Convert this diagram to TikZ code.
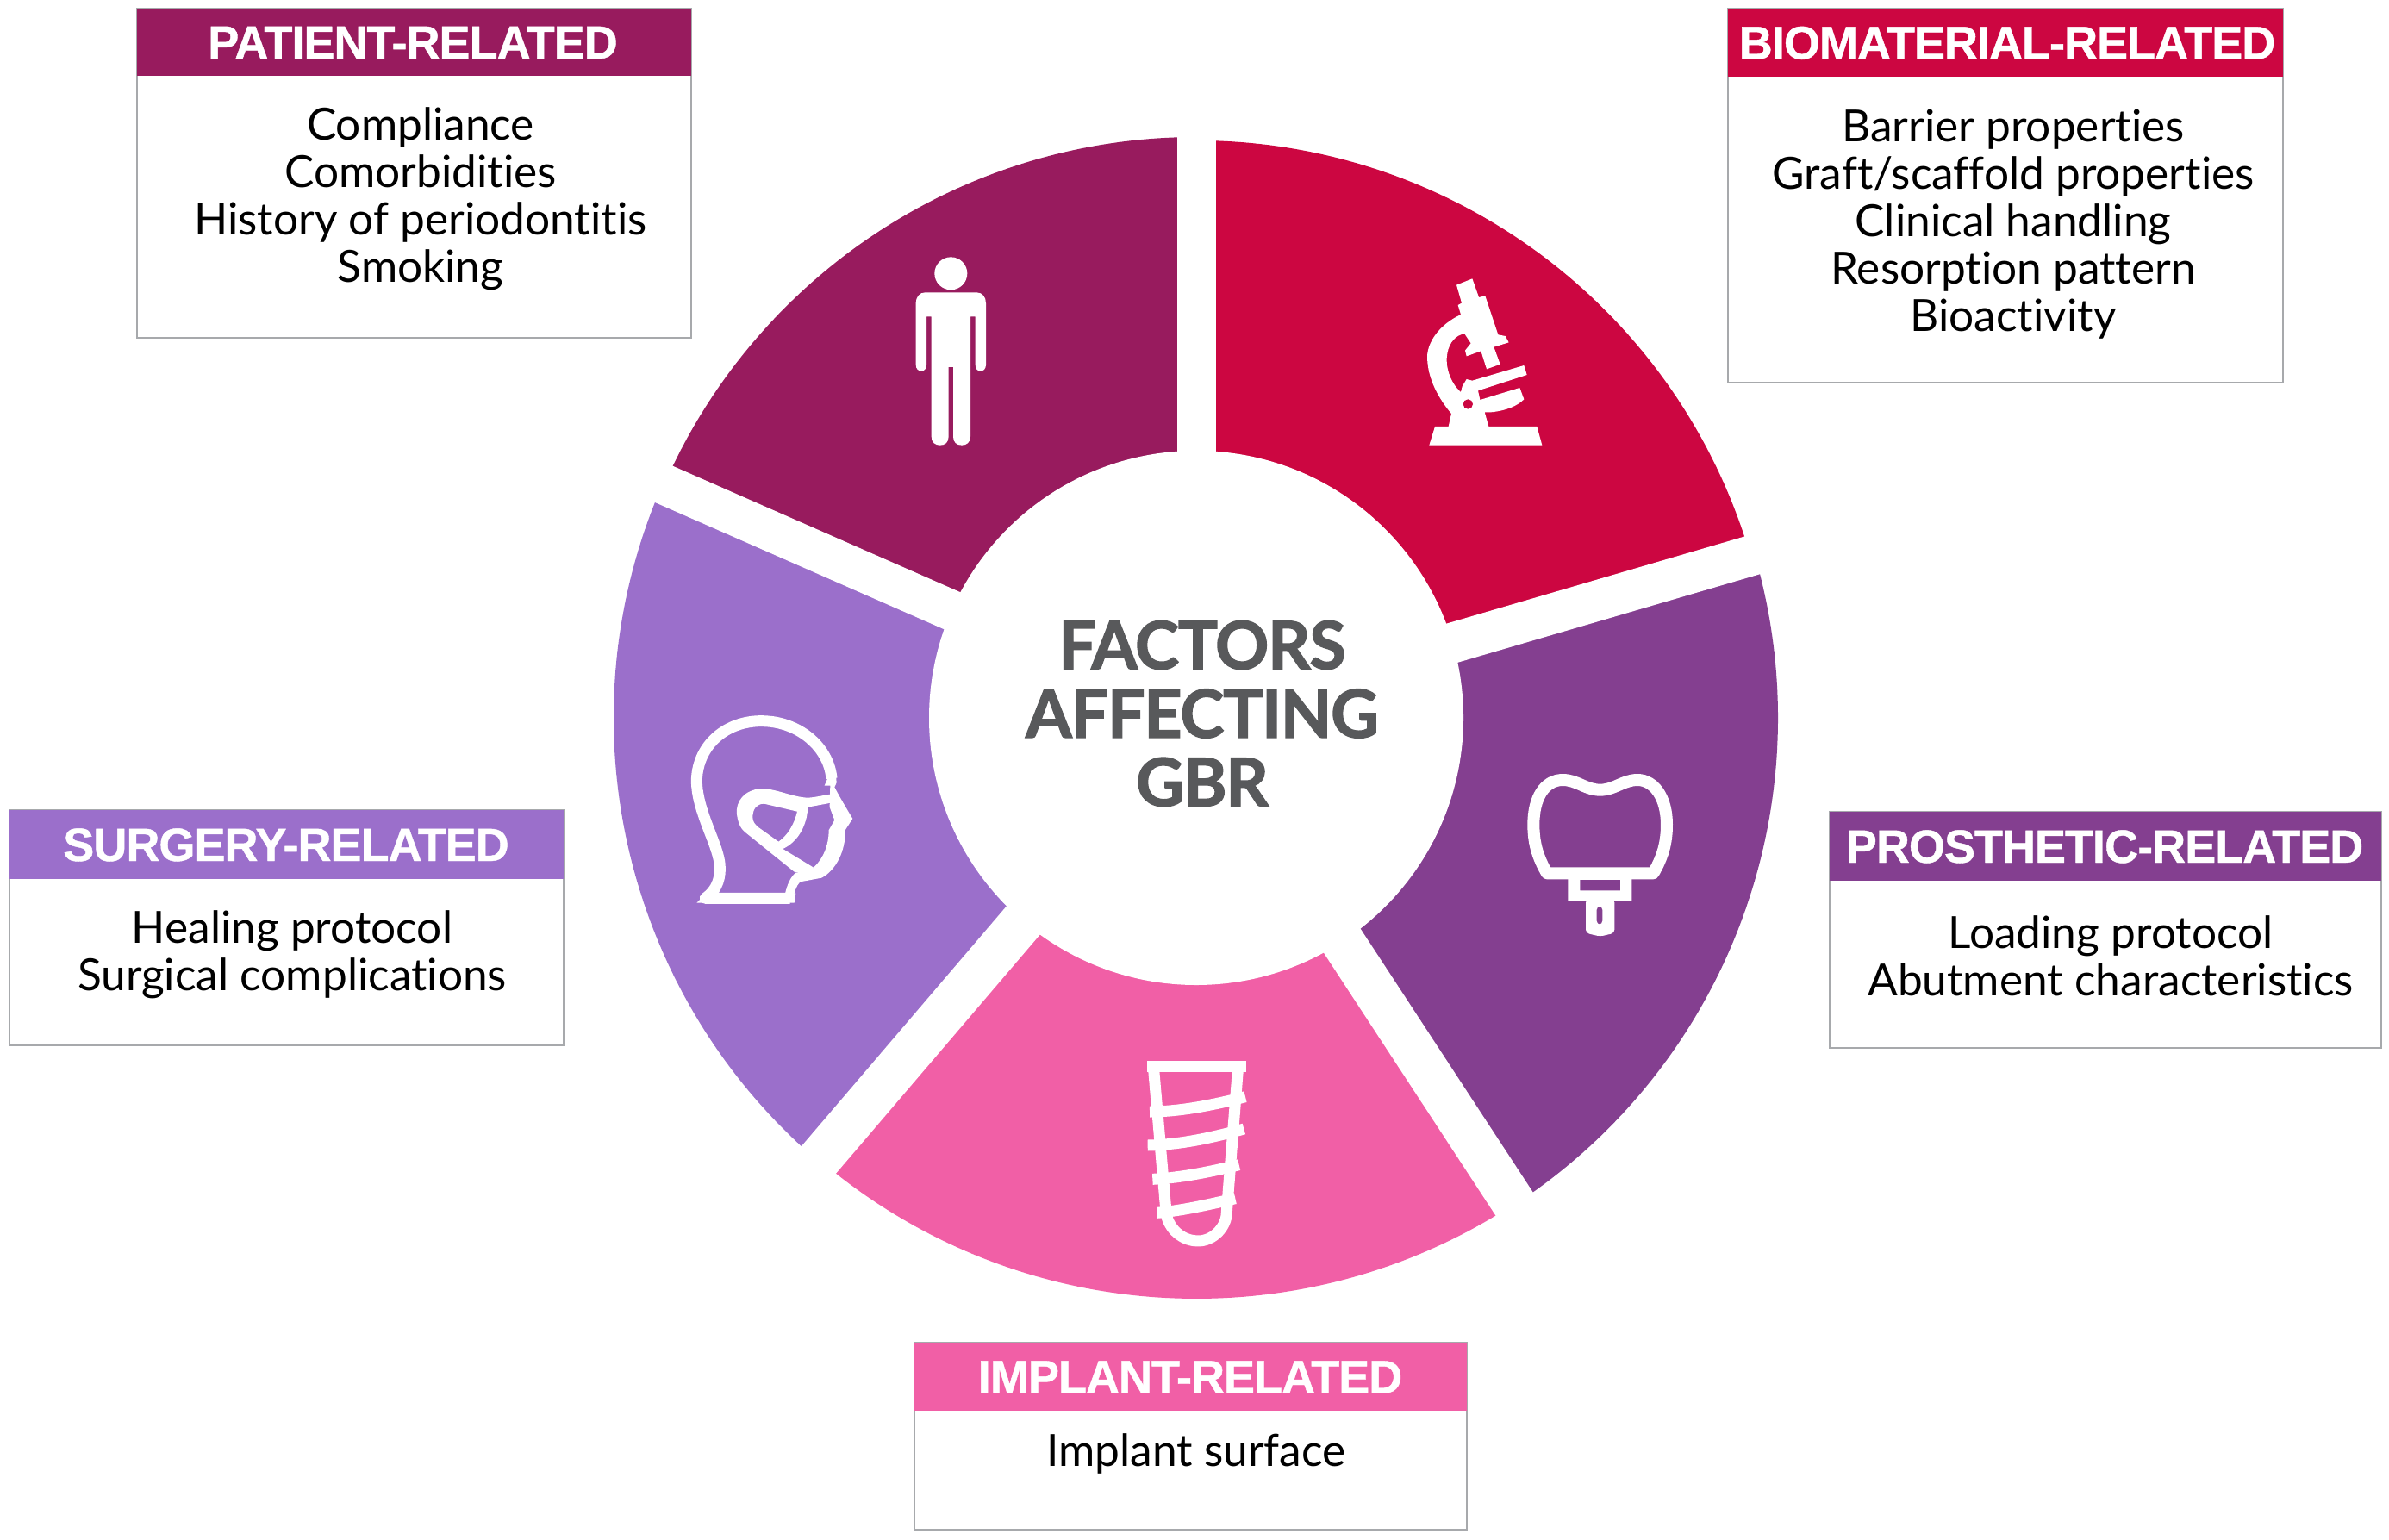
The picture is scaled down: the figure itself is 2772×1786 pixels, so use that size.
\documentclass[tikz,border=0pt]{standalone}
\usepackage{fontspec}
\setmainfont[Ligatures=NoCommon,BoldFeatures={FakeBold=1.8,LetterSpace=-1.5}]{Lato}
\newfontfamily\titlefont[LetterSpace=-1.8,BoldFeatures={FakeBold=0.8,LetterSpace=-1.8}]{Liberation Sans}
\definecolor{patcol}{HTML}{981B5E}
\definecolor{biocol}{HTML}{CC0641}
\definecolor{procol}{HTML}{843F90}
\definecolor{impcol}{HTML}{F15FA6}
\definecolor{surcol}{HTML}{9B6FCB}
\definecolor{centcol}{HTML}{58595B}
\definecolor{framecol}{HTML}{A7A9AC}
\tikzset{
  boxframe/.style={draw=framecol,line width=2pt,fill=white,inner sep=0pt,outer sep=0pt},
  headband/.style={inner sep=0pt,outer sep=0pt},
  headtext/.style={text=white,font=\titlefont\bfseries\fontsize{54}{56}\selectfont,inner sep=0pt,anchor=base},
  bodytext/.style={text=black,font=\fontsize{51.4}{55}\selectfont,inner sep=0pt,anchor=base},
  centretext/.style={text=centcol,font=\bfseries\fontsize{77}{79.5}\selectfont,align=center,inner sep=0pt},
  icline/.style={draw=white,fill=none,line join=round},
}
\newcommand{\catbox}[9]{%
  \pgfmathsetmacro\cxa{(#2+#4)/2}\pgfmathsetmacro\cya{(#3+#6)/2}%
  \pgfmathsetmacro\wa{#4-#2}\pgfmathsetmacro\ha{#6-#3}%
  \pgfmathsetmacro\cyb{(#3+#5)/2}\pgfmathsetmacro\hb{#5-#3}%
  \node[boxframe,minimum width=\wa pt,minimum height=\ha pt] (#1box) at (\cxa,\cya) {};
  \node[headband,fill=#7,minimum width=\wa pt,minimum height=\hb pt] (#1band) at (\cxa,\cyb) {};
  \pgfmathsetmacro\cyc{\cyb+19}%
  \node[headtext] (#1title) at (#8,\cyc) {#9};
}
\begin{document}
\begin{tikzpicture}[x=1pt,y=-1pt]
\useasboundingbox (0,0) rectangle (2772,1786);
\fill[white] (0,0) rectangle (2772,1786);
% ring
\begin{scope}[shift={(1388,833)},y=1pt]
  \fill[biocol] (0,0) -- (90:670) arc[start angle=90,end angle=16.3,radius=670] -- cycle;
  \fill[procol] (0,0) -- (16.3:675) arc[start angle=16.3,end angle=-56.8,radius=675] -- cycle;
  \fill[impcol] (0,0) -- (-56.8:674) arc[start angle=-56.8,end angle=-130.5,radius=674] -- cycle;
  \fill[surcol] (0,0) -- (-130.5:676) arc[start angle=-130.5,end angle=-203.7,radius=676] -- cycle;
  \fill[patcol] (0,0) -- (156.3:674) arc[start angle=156.3,end angle=90,radius=674] -- cycle;
  \draw[white,line width=45pt] (0,0) -- (90:700);
  \draw[white,line width=47pt] (0,0) -- (16.3:700);
  \draw[white,line width=51pt] (0,0) -- (-56.8:700);
  \draw[white,line width=51pt] (0,0) -- (-130.5:700);
  \draw[white,line width=47pt] (0,0) -- (156.3:700);
  \fill[white] (0,0) circle[radius=310];
\end{scope}
\node[centretext] (centre) at (1395,828) {FACTORS\\AFFECTING\\GBR};
% person
\begin{scope}[shift={(1040,280)},scale=0.3333]
  \fill[white] (190,112) circle[radius=57];
  \fill[white] (100,178) -- (280,178) .. controls (300,178) and (312,195) .. (312,215) -- (312,430)
    .. controls (312,445) and (302,452) .. (293,452) .. controls (284,452) and (275,445) .. (275,430)
    -- (275,262) -- (258,262) -- (258,680) .. controls (258,700) and (245,710) .. (228,710)
    .. controls (210,710) and (198,700) .. (198,680) -- (198,438) -- (182,438) -- (182,680)
    .. controls (182,700) and (170,710) .. (152,710) .. controls (135,710) and (122,700) .. (122,680)
    -- (122,262) -- (105,262) -- (105,430) .. controls (105,445) and (96,452) .. (87,452)
    .. controls (78,452) and (68,445) .. (68,430) -- (68,215) .. controls (68,195) and (80,178) .. (100,178) -- cycle;
\end{scope}
% microscope
\begin{scope}[shift={(1640,310)},scale=0.3333]
  \fill[white] (55,620) -- (448,620) -- (430,555) -- (262,555) -- (248,505) -- (270,505)
    .. controls (320,500) and (360,485) .. (385,460) -- (370,420) -- (232,462) -- (225,430) -- (395,375) -- (385,342) -- (205,395) -- (185,390) -- (170,415) -- (165,435)
    .. controls (125,400) and (110,340) .. (118,300) .. controls (125,260) and (150,235) .. (178,232)
    -- (200,265) -- (180,290) -- (185,310) -- (235,292) -- (255,355) -- (302,338) -- (280,278) -- (332,262) -- (320,240) -- (295,235) -- (250,100) -- (228,105) -- (205,40) -- (150,62) -- (168,125) -- (155,132) -- (165,165)
    .. controls (90,200) and (50,260) .. (48,310) .. controls (48,390) and (90,460) .. (132,510) -- (122,555) -- (75,555) -- cycle;
  \fill[biocol] (190,477) circle[radius=17];
\end{scope}
% mask head
\begin{scope}[shift={(740,780)},scale=0.3333]
  \draw[icline,line width=13pt] (530,787) -- (235,787)
     .. controls (280,755) and (290,710) .. (285,665)
     .. controls (275,590) and (205,480) .. (205,375)
     .. controls (210,250) and (310,170) .. (430,170)
     .. controls (560,170) and (665,260) .. (675,370);
  \fill[white] (205,803) -- (545,803) -- (550,770) -- (240,770) -- cycle;
  \fill[white] (512,775) .. controls (520,740) and (530,715) .. (550,698) -- (600,690) .. controls (640,660) and (665,610) .. (665,550) -- (685,515) -- (668,470) -- (670,395) -- (650,395) -- (665,360) -- (690,355) -- (692,385) -- (685,400)
     .. controls (700,430) and (730,480) .. (748,510) -- (722,550) .. controls (725,620) and (690,690) .. (640,716) -- (565,730) .. controls (550,745) and (545,770) .. (540,790) -- cycle;
  \fill[white,even odd rule] (670,425) .. controls (640,430) and (610,437) .. (590,437)
     .. controls (540,435) and (480,405) .. (430,405)
     .. controls (370,410) and (340,450) .. (345,495)
     .. controls (350,530) and (360,548) .. (380,562) -- (545,695) -- (600,700) -- (612,680) -- (505,615)
     .. controls (560,590) and (590,530) .. (592,470) -- (672,455) -- cycle
     (400,505) .. controls (400,475) and (415,458) .. (440,458)
     -- (555,485) .. controls (545,530) and (520,570) .. (490,590) -- (420,540)
     .. controls (408,530) and (400,520) .. (400,505) -- cycle;
\end{scope}
% crown
\begin{scope}[shift={(1720,860)},scale=0.3333]
  \draw[icline,line width=14pt] (225,460)
     .. controls (190,400) and (178,350) .. (178,290)
     .. controls (178,200) and (215,135) .. (280,135)
     .. controls (330,135) and (360,170) .. (410,170)
     .. controls (460,170) and (490,135) .. (540,135)
     .. controls (600,135) and (642,200) .. (642,290)
     .. controls (642,350) and (630,400) .. (595,460) -- cycle;
  \fill[white,even odd rule] (298,470) -- (520,470) -- (520,558) -- (298,558) -- cycle
     (340,483) -- (480,483) -- (480,520) -- (340,520) -- cycle;
  \fill[white,even odd rule,rounded corners=4pt] (360,550) -- (460,550) -- (460,668) -- (410,680) -- (360,668) -- cycle
     (398,575) -- (418,575) -- (418,638) -- (398,638) -- cycle;
\end{scope}
% implant
\begin{scope}[shift={(1260,1240)},scale=0.3333]
  \draw[icline,line width=13pt] (213,-8) -- (558,-8);
  \draw[icline,line width=13pt] (235,-8) -- (280,510) .. controls (295,570) and (345,600) .. (390,600) .. controls (445,600) and (490,550) .. (490,500) -- (530,-8);
  \draw[icline,line width=13pt] (222,150) .. controls (330,150) and (450,125) .. (555,98);
  \draw[icline,line width=13pt] (215,267) .. controls (330,265) and (440,240) .. (550,210);
  \draw[icline,line width=13pt] (232,385) .. controls (330,380) and (430,360) .. (533,335);
  \draw[icline,line width=13pt] (248,502) .. controls (330,495) and (420,475) .. (520,452);
\end{scope}
% boxes
\catbox{pat}{159}{10}{802}{88}{392}{patcol}{479}{PATIENT-RELATED}
\node[bodytext] (pat1) at (488,162) {Compliance};
\node[bodytext] (pat2) at (488,217) {Comorbidities};
\node[bodytext] (pat3) at (488,272) {History of periodontitis};
\node[bodytext] (pat4) at (488,327) {Smoking};
\catbox{bio}{2005}{10}{2649}{89}{444}{biocol}{2329}{BIOMATERIAL-RELATED}
\node[bodytext] (bio1) at (2336,164) {Barrier properties};
\node[bodytext] (bio2) at (2336,219) {Graft/scaffold properties};
\node[bodytext] (bio3) at (2336,274) {Clinical handling};
\node[bodytext] (bio4) at (2336,329) {Resorption pattern};
\node[bodytext] (bio5) at (2336,384) {Bioactivity};
\catbox{sur}{11}{940}{654}{1020}{1213}{surcol}{332}{SURGERY-RELATED}
\node[bodytext] (sur1) at (339,1094) {Healing protocol};
\node[bodytext] (sur2) at (339,1149) {Surgical complications};
\catbox{pro}{2123}{942}{2763}{1022}{1216}{procol}{2442}{PROSTHETIC-RELATED}
\node[bodytext] (pro1) at (2449,1100) {Loading protocol};
\node[bodytext] (pro2) at (2449,1155) {Abutment characteristics};
\catbox{imp}{1061}{1558}{1702}{1637}{1775}{impcol}{1381}{IMPLANT-RELATED}
\node[bodytext] (imp1) at (1388,1701) {Implant surface};
\end{tikzpicture}
\end{document}
